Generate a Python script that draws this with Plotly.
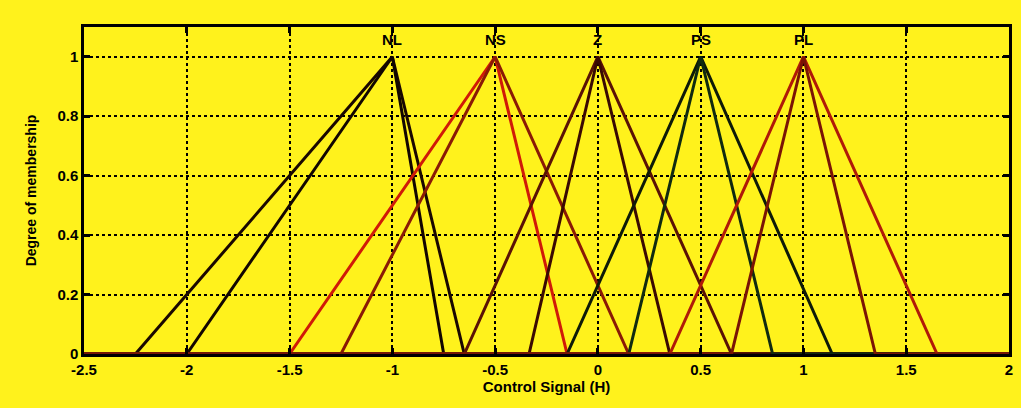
import plotly.graph_objects as go

# Membership function labels and peaks
labels = ["NL", "NS", "Z", "PS", "PL"]
peaks = [-1.0, -0.5, 0.0, 0.5, 1.0]

# Two triangular functions per label: (left foot, right foot)
left_a = [-2.25, -1.5, -0.65, -0.15, 0.35]
right_a = [-0.65, -0.15, 0.65, 1.14, 1.65]
left_b = [-2.0, -1.25, -0.335, 0.15, 0.65]
right_b = [-0.75, 0.15, 0.35, 0.85, 1.35]

colors_a = ["#1a0800", "#d01a08", "#5a1205", "#0e1a08", "#b01a08"]
colors_b = ["#120600", "#8a1a05", "#3a0a02", "#102a10", "#7a1405"]

x_ticks = [-2.5, -2, -1.5, -1, -0.5, 0, 0.5, 1, 1.5, 2]
x_tick_text = ["-2.5", "-2", "-1.5", "-1", "-0.5", "0", "0.5", "1", "1.5", "2"]
y_ticks = [0, 0.2, 0.4, 0.6, 0.8, 1]
y_tick_text = ["0", "0.2", "0.4", "0.6", "0.8", "1"]

X_MIN, X_MAX = -2.5, 2.0

fig = go.Figure()
for i in range(len(labels)):
    for lf, rf, col in ((left_a[i], right_a[i], colors_a[i]), (left_b[i], right_b[i], colors_b[i])):
        fig.add_trace(go.Scatter(
            x=[X_MIN, lf, peaks[i], rf, X_MAX],
            y=[0, 0, 1, 0, 0],
            mode="lines",
            line=dict(color=col, width=3),
            showlegend=False,
            hoverinfo="skip",
        ))

for lab, pk in zip(labels, peaks):
    fig.add_annotation(x=pk, y=1.058, text="<b>" + lab + "</b>", showarrow=False,
                       font=dict(family="Liberation Sans", size=15, color="black"),
                       xanchor="center", yanchor="middle")

bg = "#fff21c"
axis_common = dict(
    showline=True, linecolor="black", linewidth=2.5, mirror="ticks",
    ticks="inside", ticklen=6, tickcolor="black", tickwidth=2.5,
    showgrid=True, gridcolor="black", gridwidth=2, griddash="dot",
    zeroline=False,
    tickfont=dict(family="Liberation Sans", size=15, color="black", weight="bold"),
)

fig.update_xaxes(range=[X_MIN, X_MAX], tickvals=x_ticks, ticktext=x_tick_text,
                 title=dict(text="<b>Control Signal (H)</b>", standoff=4,
                            font=dict(family="Liberation Sans", size=15, color="black")),
                 **axis_common)
fig.update_yaxes(range=[0, 1.1], tickvals=y_ticks, ticktext=y_tick_text,
                 title=dict(text="<b>Degree of membership</b>", standoff=18,
                            font=dict(family="Liberation Sans", size=14, color="black")),
                 **axis_common)

fig.update_layout(
    width=1021, height=408,
    margin=dict(l=84, r=8, t=27, b=54),
    paper_bgcolor=bg, plot_bgcolor=bg,
    showlegend=False,
)

fig.write_html("out.html")
